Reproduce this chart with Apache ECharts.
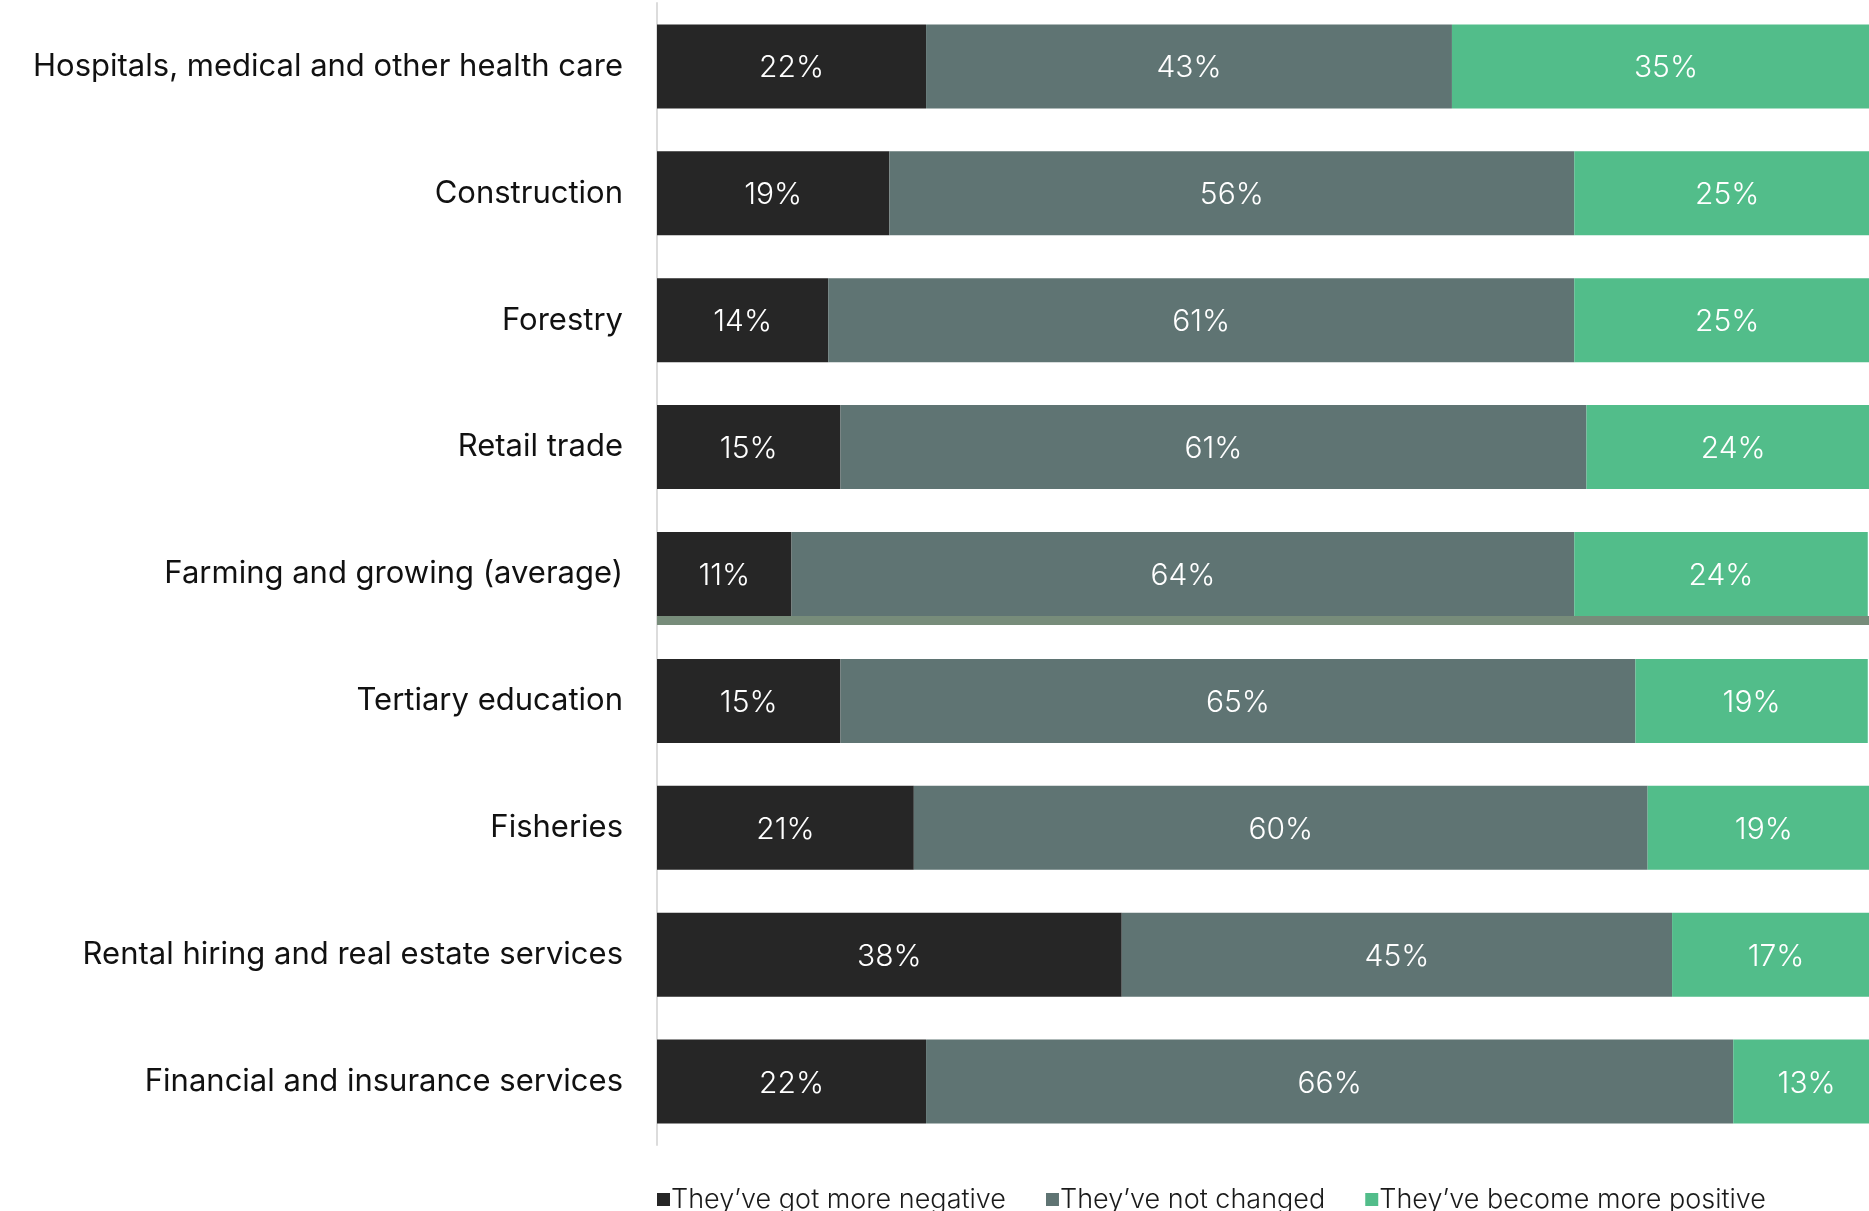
<!DOCTYPE html>
<html>
<head>
<meta charset="utf-8">
<script src="https://cdn.jsdelivr.net/npm/echarts@6/dist/echarts.min.js"></script>
<style>
html,body{margin:0;padding:0;background:#fff;overflow:hidden;width:1869px;height:1211px;}
#chart{width:1880px;height:1211px;}
</style>
</head>
<body>
<div id="chart"></div>
<script>
var categories = [
  "Hospitals, medical and other health care",
  "Construction",
  "Forestry",
  "Retail trade",
  "Farming and growing (average)",
  "Tertiary education",
  "Fisheries",
  "Rental hiring and real estate services",
  "Financial and insurance services"
];
var seriesNames = ["They\u2019ve got more negative", "They\u2019ve not changed", "They\u2019ve become more positive"];
var negative = [22, 19, 14, 15, 11, 15, 21, 38, 22];
var unchanged = [43, 56, 61, 61, 64, 65, 60, 45, 66];
var positive = [35, 25, 25, 24, 24, 19, 19, 17, 13];
var highlightCategory = "Farming and growing (average)";

var colors = ["#262626", "#5f7473", "#52bd8a"];
var FONT = "Inter";

var chart = echarts.init(document.getElementById('chart'), null, {renderer: 'canvas'});

function mk(name, data, color) {
  return {
    name: name,
    type: 'bar',
    stack: 'total',
    barWidth: 84,
    data: data,
    itemStyle: {color: color},
    label: {
      show: true,
      position: 'inside',
      offset: [0, 2],
      color: '#ffffff',
      fontFamily: FONT,
      fontWeight: 300,
      fontSize: 30,
      formatter: function (p) { return p.value + '%'; }
    },
    emphasis: {disabled: true},
    animation: false
  };
}

var option = {
  animation: false,
  textStyle: {fontFamily: FONT},
  grid: {left: 657, top: 3, right: 0, height: 1142, containLabel: false},
  legend: {
    data: seriesNames,
    left: 652,
    top: 1181,
    icon: 'rect',
    itemWidth: 13,
    itemHeight: 13,
    itemGap: 40,
    textStyle: {fontFamily: FONT, fontWeight: 300, fontSize: 27, color: '#1a1a1a', padding: [0, 0, 0, -4]}
  },
  xAxis: {
    type: 'value',
    min: 0,
    max: 100,
    show: false
  },
  yAxis: {
    type: 'category',
    data: categories,
    inverse: true,
    axisLine: {show: true, lineStyle: {color: '#dcdcdc', width: 2}},
    axisTick: {show: false},
    axisLabel: {fontFamily: FONT, fontWeight: 400, fontSize: 31, color: '#111111', margin: 34}
  },
  series: [
    mk(seriesNames[0], negative, colors[0]),
    mk(seriesNames[1], unchanged, colors[1]),
    mk(seriesNames[2], positive, colors[2])
  ]
};
chart.setOption(option);

// highlight strip under the average row, positioned through the axes
var yc = chart.convertToPixel({yAxisIndex: 0}, highlightCategory);
var x0 = chart.convertToPixel({xAxisIndex: 0}, 0);
var x1 = chart.convertToPixel({xAxisIndex: 0}, 100);
chart.setOption({
  graphic: [{
    type: 'rect',
    shape: {x: x0, y: yc + 42, width: x1 - x0, height: 9},
    style: {fill: '#778c7a'},
    z: 10
  }]
});
</script>
</body>
</html>
